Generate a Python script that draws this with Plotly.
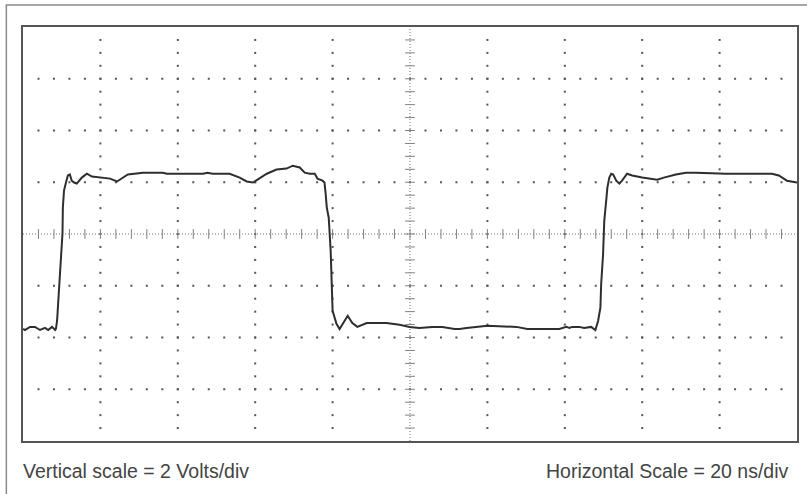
import numpy as np
import plotly.graph_objects as go

# ---- data: oscilloscope trace (time in ns, amplitude in V) ----
time_ns = [0.0, 0.5, 1.8, 3.1, 4.4, 5.7, 6.5, 7.5, 8.3, 8.5, 8.8, 9.3, 9.8, 10.1, 10.2, 10.3, 10.6,
           11.1, 11.6, 12.1, 12.6, 13.2, 13.9, 15.2, 16.5, 17.8, 19.9, 22.5, 24.3, 25.5, 27.1,
           31.0, 36.1, 37.2, 46.5, 47.7, 49.0, 53.4, 56.0, 57.8, 59.4, 60.6, 63.0, 65.5, 68.1,
           69.7, 71.5, 72.8, 74.1, 75.4, 76.1, 77.4, 77.9, 78.2, 78.5, 79.0, 79.2, 79.5, 80.0,
           80.5, 81.0, 81.8, 82.6, 83.9, 85.1, 86.4, 88.8, 93.9, 97.3, 99.9, 102.4, 105.8, 108.4,
           111.5, 112.8, 114.6, 120.0, 127.5, 130.3, 138.6, 140.4, 141.2, 141.9, 143.7, 145.0,
           146.8, 147.9, 148.6, 149.2, 149.4, 149.9, 150.2, 150.7, 151.0, 151.5, 152.0, 152.5,
           153.3, 154.1, 154.8, 156.1, 157.4, 160.0, 161.8, 163.9, 165.6, 168.7, 171.3, 173.9,
           181.7, 193.5, 195.3, 197.4, 200.0]
volts = [-3.67, -3.71, -3.59, -3.59, -3.71, -3.63, -3.71, -3.59, -3.71, -3.67, -3.36, -2.08, -1.23,
         -0.26, 0.01, 1.02, 1.68, 1.99, 2.26, 2.30, 2.06, 1.99, 1.95, 2.18, 2.33, 2.22, 2.18, 2.14,
         2.03, 2.14, 2.30, 2.37, 2.37, 2.33, 2.33, 2.37, 2.33, 2.33, 2.18, 2.03, 1.99, 2.10, 2.33,
         2.49, 2.53, 2.64, 2.57, 2.37, 2.33, 2.33, 2.14, 2.06, 1.99, 1.56, 1.02, 0.63, 0.13, -0.65,
         -2.97, -3.28, -3.47, -3.67, -3.47, -3.16, -3.44, -3.59, -3.44, -3.44, -3.51, -3.59, -3.63,
         -3.59, -3.59, -3.67, -3.67, -3.63, -3.55, -3.59, -3.67, -3.67, -3.59, -3.63, -3.59, -3.59,
         -3.63, -3.59, -3.71, -3.36, -2.85, -1.92, -0.76, 0.51, 1.29, 1.79, 2.18, 2.33, 2.30, 2.06,
         1.95, 2.06, 2.33, 2.26, 2.18, 2.14, 2.10, 2.18, 2.30, 2.37, 2.37, 2.33, 2.33, 2.26, 2.06,
         1.99]

# ---- scope settings ----
ns_per_div = 20
volts_per_div = 2
h_divs = 10
v_divs = 8
x_max = ns_per_div * h_divs
y_half = volts_per_div * v_divs / 2

label_left = "Vertical scale = 2 Volts/div"
label_right = "Horizontal Scale = 20 ns/div"

fig = go.Figure()

# grid dots on horizontal graticule lines (5 per division)
gx, gy = [], []
xs_minor = np.arange(ns_per_div / 5, x_max, ns_per_div / 5)
for r in np.arange(-y_half + volts_per_div, y_half, volts_per_div):
    if abs(r) < 1e-9:
        continue
    gx += list(xs_minor)
    gy += [r] * len(xs_minor)
# grid dots on vertical graticule lines (4 per division)
ys_minor = np.arange(-y_half + volts_per_div / 4, y_half, volts_per_div / 4)
for c in np.arange(ns_per_div, x_max, ns_per_div):
    if abs(c - x_max / 2) < 1e-9:
        continue
    gx += [c] * len(ys_minor)
    gy += list(ys_minor)
fig.add_trace(go.Scatter(x=gx, y=gy, mode="markers", hoverinfo="skip",
                         marker=dict(symbol="square", size=2, color="#555555", line_width=0)))

# center axes: dense dotted lines
fig.add_trace(go.Scatter(x=[0, x_max], y=[0, 0], mode="lines", hoverinfo="skip",
                         line=dict(color="#707070", width=1, dash="1px,2px")))
fig.add_trace(go.Scatter(x=[x_max / 2, x_max / 2], y=[-y_half, y_half], mode="lines", hoverinfo="skip",
                         line=dict(color="#707070", width=1, dash="1px,2px")))
# center tick marks
fig.add_trace(go.Scatter(x=list(xs_minor), y=[0] * len(xs_minor), mode="markers", hoverinfo="skip",
                         marker=dict(symbol="line-ns", size=7, color="#808080",
                                     line=dict(width=1, color="#808080"))))
fig.add_trace(go.Scatter(x=[x_max / 2] * len(ys_minor), y=list(ys_minor), mode="markers", hoverinfo="skip",
                         marker=dict(symbol="line-ew", size=7, color="#808080",
                                     line=dict(width=1, color="#808080"))))

# waveform
fig.add_trace(go.Scatter(x=time_ns, y=volts, mode="lines",
                         line=dict(color="#2e2e2e", width=2), hoverinfo="skip"))

fig.update_layout(
    width=807, height=494,
    margin=dict(l=23, r=8, t=27, b=53),
    paper_bgcolor="white", plot_bgcolor="white",
    showlegend=False,
    xaxis=dict(range=[0, x_max], showgrid=False, zeroline=False, showticklabels=False,
               ticks="", showline=True, mirror=True, linecolor="#555555", linewidth=2),
    yaxis=dict(range=[-y_half, y_half], showgrid=False, zeroline=False, showticklabels=False,
               ticks="", showline=True, mirror=True, linecolor="#555555", linewidth=2),
    font=dict(family="Liberation Sans, Arial, sans-serif"),
    shapes=[dict(type="rect", xref="paper", yref="paper",
                 x0=-0.0215, x1=1.3, y0=-0.4, y1=1.053,
                 line=dict(color="#8a8a8a", width=1.5), layer="below")],
    annotations=[
        dict(text=label_left, xref="paper", yref="paper", x=-0.003, y=-0.073,
             xanchor="left", yanchor="middle", showarrow=False,
             font=dict(size=19.5, color="#444444")),
        dict(text=label_right, xref="paper", yref="paper", x=0.992, y=-0.073,
             xanchor="right", yanchor="middle", showarrow=False,
             font=dict(size=19.5, color="#444444")),
    ],
)

fig.write_html("out.html")
